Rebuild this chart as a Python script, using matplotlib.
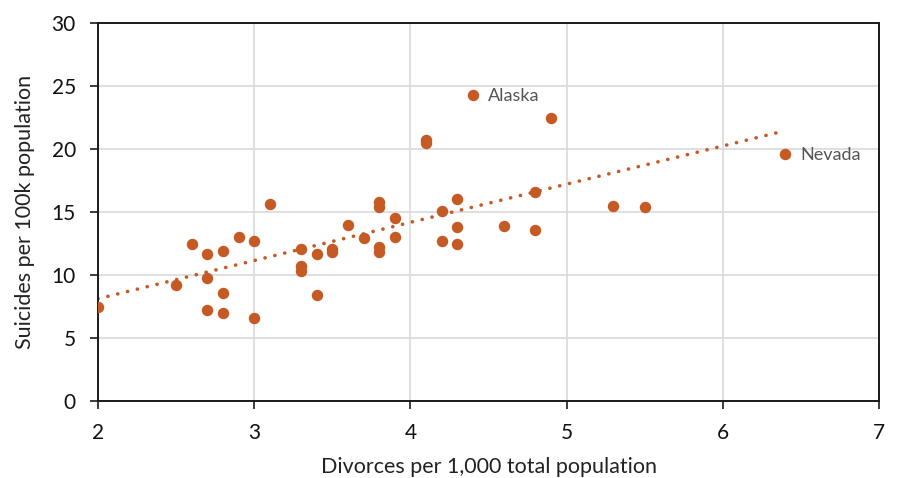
import numpy as np
import matplotlib
matplotlib.use("Agg")
import matplotlib.pyplot as plt

plt.rcParams['font.family'] = ['Lato', 'DejaVu Sans']

# Divorce rate (per 1,000) and suicide rate (per 100k) by state
divorces = [2.0, 2.5, 2.6, 2.7, 2.7, 2.7, 2.8, 2.8, 2.8, 2.9,
            3.0, 3.0, 3.1, 3.3, 3.3, 3.3, 3.4, 3.4, 3.5, 3.5,
            3.6, 3.7, 3.8, 3.8, 3.8, 3.8, 3.9, 3.9, 4.1, 4.1,
            4.2, 4.2, 4.3, 4.3, 4.3, 4.4, 4.6, 4.8, 4.8, 4.9,
            5.3, 5.5, 6.4]
suicides = [7.5, 9.2, 12.5, 11.7, 9.8, 7.2, 11.9, 8.6, 7.0, 13.0,
            12.7, 6.6, 15.6, 12.1, 10.7, 10.3, 11.7, 8.4, 12.1, 11.8,
            14.0, 12.9, 15.8, 15.4, 12.2, 11.8, 14.5, 13.0, 20.7, 20.5,
            15.1, 12.7, 16.0, 13.8, 12.5, 24.3, 13.9, 16.6, 13.6, 22.5,
            15.5, 15.4, 19.6]

labelled = {"Alaska": (4.4, 24.3), "Nevada": (6.4, 19.6)}

x_ticks = [2, 3, 4, 5, 6, 7]
y_ticks = [0, 5, 10, 15, 20, 25, 30]

color = "#C55A25"

fig = plt.figure(figsize=(8.97, 4.78), dpi=100)
ax = fig.add_axes([98 / 897, 1 - 401 / 478, (879 - 98) / 897, (401 - 23) / 478])

ax.scatter(divorces, suicides, s=68, color=color, zorder=3, linewidths=0)

# least-squares trend line over the data range
xs = np.array(divorces)
ys = np.array(suicides)
slope, intercept = np.polyfit(xs, ys, 1)
tx = np.array([xs.min(), xs.max()])
ax.plot(tx, slope * tx + intercept, color=color, lw=2.6,
        linestyle=(0, (0.05, 2.75)), dash_capstyle='round', zorder=2)

for name, (px, py) in labelled.items():
    ax.annotate(name, (px, py), xytext=(11, -1), textcoords='offset points',
                va='center', ha='left', fontsize=13, color="#555555")

ax.set_xlim(2, 7)
ax.set_ylim(0, 30)
ax.set_xticks(x_ticks)
ax.set_yticks(y_ticks)
ax.grid(True, color="#D9D9D9", lw=1.2, zorder=0)
ax.set_axisbelow(True)
for s in ax.spines.values():
    s.set_color("#1a1a1a")
    s.set_linewidth(1.4)
ax.tick_params(axis='both', direction='out', length=6, width=1.2,
               labelsize=15, color="#1a1a1a", labelcolor="#111111")
ax.tick_params(axis='y', pad=10)
ax.tick_params(axis='x', pad=10)

ax.set_xlabel("Divorces per 1,000 total population", fontsize=15.5,
              color="#222222", labelpad=10)
ax.set_ylabel("Suicides per 100k population", fontsize=15.5,
              color="#222222", labelpad=12)

fig.savefig("out.png", dpi=100)
